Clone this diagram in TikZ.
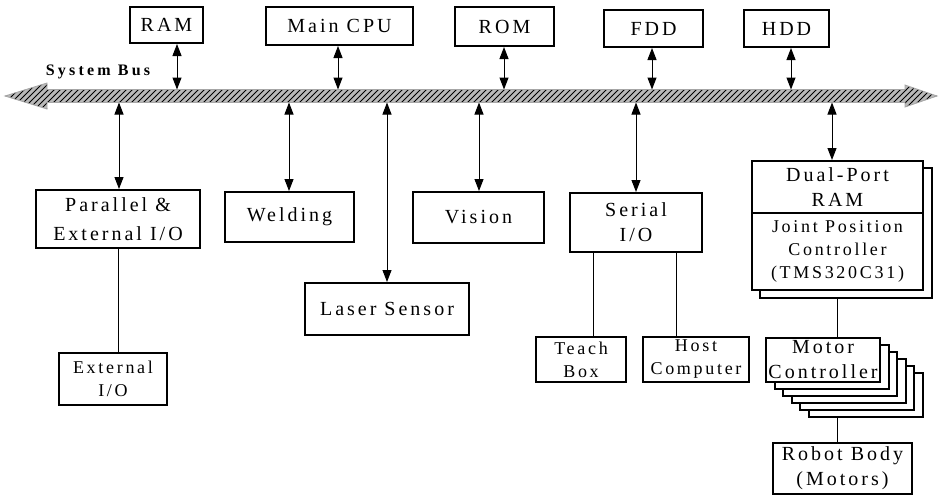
\documentclass[tikz,border=0pt]{standalone}
\usepackage{fontspec}
\setmainfont{Liberation Serif}[LetterSpace=15]
\usepackage{tikz}
\usetikzlibrary{arrows.meta,patterns}

\begin{document}
\begin{tikzpicture}[x=0.5pt, y=-0.5pt, >={Triangle[length=6pt,width=4.5pt]},
    unitbox/.style={draw, line width=1pt, fill=white, align=center, inner sep=1pt,
      font=\fontsize{10}{12.5}\selectfont},
    smallbox/.style={unitbox, font=\fontsize{9}{11.5}\selectfont},
    biarrow/.style={<->, line width=0.5pt},
    link/.style={line width=0.5pt},
    busband/.style={draw=gray!70, line width=0.4pt, pattern=north east lines,
      pattern color=black, preaction={fill=gray!55}}]
  \useasboundingbox (0,0) rectangle (940,498);

  % system bus
  \draw[busband] (5,96) -- (47,83) -- (47,89.5) -- (905,89.5) -- (905,85) -- (937,96)
    -- (905,107) -- (905,102.5) -- (47,102.5) -- (47,109) -- cycle;
  \node[font=\fontsize{8}{10}\selectfont\bfseries\addfontfeature{LetterSpace=20}] (buslabel) at (98,72) {System Bus};

  % units on top of the bus
  \node[unitbox, minimum width=36.5pt, minimum height=18pt] (ram) at (166.5,25) {RAM};
  \node[unitbox, minimum width=73.5pt, minimum height=19pt] (cpu) at (339.5,26) {Main CPU};
  \node[unitbox, minimum width=49.5pt, minimum height=19.5pt] (rom) at (504.5,26.5) {ROM};
  \node[unitbox, minimum width=49.5pt, minimum height=18.5pt] (fdd) at (653.5,28.5) {FDD};
  \node[unitbox, minimum width=42.5pt, minimum height=18.5pt] (hdd) at (786.5,28.5) {HDD};

  % units below the bus
  \node[unitbox, minimum width=82pt, minimum height=29pt] (par) at (118,219) {Parallel \&\\[2pt]External I/O};
  \node[unitbox, minimum width=64.5pt, minimum height=25pt] (weld) at (289.5,217) {Welding};
  \node[unitbox, minimum width=82pt, minimum height=26pt] (laser) at (387,309) {Laser Sensor};
  \node[unitbox, minimum width=65.5pt, minimum height=25.5pt] (vision) at (478.5,217.5) {Vision};
  \node[unitbox, minimum width=66pt, minimum height=29.5pt] (serial) at (636,222.5) {Serial\\I/O};
  \node[smallbox, minimum width=54pt, minimum height=26pt] (extio) at (113,379) {External\\I/O};
  \node[smallbox, minimum width=45pt, minimum height=22.5pt] (teach) at (581,359.5) {Teach\\Box};
  \node[smallbox, minimum width=53pt, minimum height=22.5pt] (host) at (696,359.5) {Host\\Computer};

  % joint controller board
  \node[unitbox, minimum width=86pt, minimum height=65pt] (jshadow) at (846,233) {};
  \node[unitbox, minimum width=85.5pt, minimum height=26pt] (dual) at (837.5,187) {Dual-Port\\RAM};
  \node[smallbox, minimum width=85.5pt, minimum height=38.5pt] (joint) at (837.5,251.5) {Joint Position\\Controller\\(TMS320C31)};

  % one motor controller per joint
  \foreach \k in {5,4,3,2,1}
    \node[unitbox, minimum width=57pt, minimum height=22pt] (mc\k) at (823+\k*8.5,360+\k*7) {};
  \node[unitbox, minimum width=57pt, minimum height=22pt] (motor) at (823,360) {Motor\\Controller};
  \node[unitbox, minimum width=69.5pt, minimum height=25.5pt] (robot) at (842.5,468.5) {Robot Body\\(Motors)};

  % bus connections
  \foreach \n/\x in {ram/177,cpu/338,rom/504,fdd/652,hdd/791}{
    \coordinate (bus-\n) at (\x,89.5);
    \draw[biarrow] (\n.south -| bus-\n) -- (bus-\n);
  }
  \foreach \n/\x in {par/119,weld/289,laser/387,vision/479,serial/636,dual/832}{
    \coordinate (bus-\n) at (\x,102.5);
    \draw[biarrow] (bus-\n) -- (\n.north -| bus-\n);
  }

  % plain links
  \coordinate (tb) at ([xshift=6pt]teach.north);
  \coordinate (hc) at ([xshift=-10pt]host.north);
  \draw[link] (par.south) -- (par.south |- extio.north);
  \draw[link] (tb) -- (tb |- serial.south);
  \draw[link] (hc) -- (hc |- serial.south);
  \draw[link] (joint.south |- jshadow.south) -- (joint.south |- motor.north);
  \draw[link] (joint.south |- mc5.south) -- (joint.south |- robot.north);
\end{tikzpicture}
\end{document}
